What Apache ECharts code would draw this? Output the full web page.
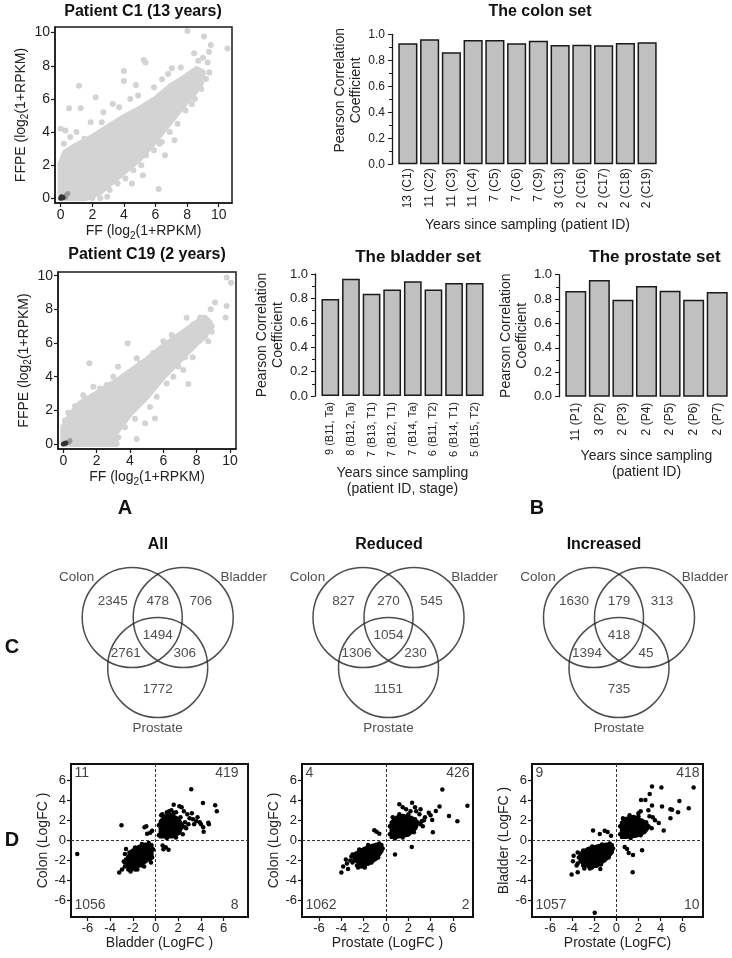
<!DOCTYPE html>
<html><head><meta charset="utf-8">
<script src="https://cdn.jsdelivr.net/npm/echarts@6/dist/echarts.min.js"></script>
<style>html,body{margin:0;padding:0;background:#fff}#c{width:732px;height:958px}</style>
</head><body><div id="c"></div>
<script>
// ---------------- DATA ----------------
const scatterTicks = [0, 2, 4, 6, 8, 10];
const fcTicks = [-6, -4, -2, 0, 2, 4, 6];

// Panel A: dense cloud outlines and individual (fringe/outlier) points
const c1CloudOutline = [[0,0],[0,2.1],[0.3,2.8],[1,3.2],[2,3.7],[3,4.3],[4,4.9],[5,5.4],[6,6.0],[7,6.8],[8,7.4],[8.6,7.8],[9.0,7.6],[8.9,7.0],[8.4,6.3],[8,5.9],[7,4.7],[6,3.5],[5,2.4],[4,1.6],[3,0.8],[2.5,0.4],[2,0.15],[1.5,0],[0,0]];
const c1Points = [[8.02,10.1],[9.07,9.76],[9.5,9.26],[10.55,9.05],[9.39,8.85],[8.44,8.75],[9.0,8.49],[8.7,8.3],[9.3,8.2],[5.26,8.35],[5.37,8.2],[4.0,7.69],[4.0,7.08],[7.03,7.85],[6.42,7.18],[4.76,6.84],[1.16,6.8],[2.21,6.1],[0.53,5.43],[1.26,5.43],[0,4.2],[0.3,4.1],[6.2,0.56],[2.95,0.1],[8.06,6.64],[8.5,6.0],[9.4,7.6],[7.6,7.9],[6.8,7.5],[3.3,5.7],[2.7,5.2],[3.7,5.5],[4.4,6.0],[5.9,6.7],[1.9,4.6],[1.0,4.0],[0.6,3.7],[2.6,4.6],[4.9,6.2],[1.2,0.0],[2.0,0.0],[2.5,0.0],[3.1,0.5],[3.6,0.9],[4.1,1.2],[4.6,1.7],[5.1,2.0],[5.4,2.6],[5.9,2.9],[6.4,3.4],[6.9,4.0],[7.4,4.5],[7.9,5.3],[8.3,5.7],[8.9,6.6],[4.5,0.9],[5.2,1.4],[6.6,2.6],[7.2,3.5],[6.27,3.3],[0.2,3.3],[1.5,3.6],[9.2,7.2]];
const c1Dark = [[0,0],[0.08,0.02],[0.15,0.05],[0.05,0.1]];
const c1Mid = [[0.25,0.1],[0.35,0.2],[0.45,0.3],[0.3,0.05]];

const c19CloudOutline = [[0,0],[0,1.0],[0.5,1.8],[1,2.4],[2,3.0],[3,3.6],[4,4.3],[5,5.0],[6,5.8],[7,6.5],[8,7.2],[8.5,7.5],[8.8,7.2],[8.5,6.4],[8,6.0],[7,5.0],[6,4.0],[5,2.8],[4,1.8],[3.4,1.0],[3.0,0.5],[3.2,0],[0,0]];
const c19Points = [[9.8,9.9],[10.06,9.58],[9.8,8.2],[9.1,8.4],[8.84,8.0],[9.74,7.52],[8.9,6.67],[8.2,7.5],[8.4,7.5],[8.6,7.3],[7.4,7.5],[3.86,5.98],[1.56,4.79],[3.28,4.59],[4.4,5.09],[6.5,6.47],[7.3,5.15],[7.76,5.15],[7.5,3.56],[5.5,1.52],[4.9,1.23],[4.4,0.3],[1.8,3.4],[0.7,2.26],[0.3,1.86],[2.6,3.5],[2.2,3.3],[1.2,2.9],[0.1,1.4],[3.0,4.0],[4.6,4.8],[5.4,5.4],[6.0,6.1],[7.8,7.1],[8.9,7.0],[8.1,6.4],[6.9,4.6],[6.2,3.6],[5.6,2.8],[4.3,1.5],[3.7,1.0],[3.3,0.4],[2.7,0.1],[5.2,2.2],[6.6,4.0],[7.2,4.4],[8.7,6.1],[2.3,0]];
const c19Dark = [[0,0],[0.08,0.02],[0.15,0.05]];
const c19Mid = [[0.25,0.08],[0.35,0.12],[0.4,0.2]];

// Panel B: Pearson correlation bars
const colonCats = ['13 (C1)','11 (C2)','11 (C3)','11 (C4)','7 (C5)','7 (C6)','7 (C9)','3 (C13)','2 (C16)','2 (C17)','2 (C18)','2 (C19)'];
const colonVals = [0.931,0.962,0.862,0.956,0.956,0.931,0.951,0.918,0.920,0.915,0.933,0.938];
const bladderCats = ['9 (B11, Ta)','8 (B12, Ta)','7 (B13, T1)','7 (B12, T1)','7 (B14, Ta)','6 (B11, T2)','6 (B14, T1)','5 (B15, T2)'];
const bladderVals = [0.795,0.962,0.839,0.872,0.940,0.872,0.926,0.926];
const prostateCats = ['11 (P1)','3 (P2)','2 (P3)','2 (P4)','2 (P5)','2 (P6)','2 (P7)'];
const prostateVals = [0.866,0.956,0.795,0.907,0.869,0.795,0.858];

// Panel C: Venn counts (colon only, colon∩bladder, bladder only, all three, colon∩prostate, bladder∩prostate, prostate only)
const vennSets = ['Colon', 'Bladder', 'Prostate'];
const vennTitles = ['All', 'Reduced', 'Increased'];
const vennAll = [2345, 478, 706, 1494, 2761, 306, 1772];
const vennReduced = [827, 270, 545, 1054, 1306, 230, 1151];
const vennIncreased = [1630, 179, 313, 418, 1394, 45, 735];

// Panel D: LogFC scatter (quadrant counts: top-left, top-right, bottom-left, bottom-right)
const abCounts = [11, 419, 1056, 8];
const pcCounts = [4, 426, 1062, 2];
const pbCounts = [9, 418, 1057, 10];
const abNegOutline = [[-0.3,-0.4],[-0.3,-1.5],[-0.8,-2.1],[-1.5,-2.6],[-2.1,-2.9],[-2.5,-2.6],[-2.5,-1.7],[-2.1,-1.0],[-1.5,-0.6],[-0.9,-0.35]];
const abPosOutline = [[0.4,0.35],[0.4,1.9],[0.8,2.4],[1.3,2.6],[2.0,2.2],[2.4,1.5],[2.1,0.7],[1.5,0.35]];
const abPoints = [[-3.2,-3.2],[-2.95,-2.9],[-2.7,-1.35],[-2.6,-0.85],[-2.8,-2.1],[-2.7,-2.6],[-2.2,-3.1],[-1.8,-2.9],[-1.2,-2.5],[-0.5,-1.9],[-0.3,-1.7],[-6.9,-1.35],[-3.0,1.5],[-0.82,1.4],[-0.97,1.3],[-0.74,0.67],[-0.47,0.75],[-0.3,0.95],[3.15,5.1],[4.18,3.73],[5.26,3.5],[5.4,2.9],[4.7,1.6],[4.65,1.75],[4.24,0.85],[4.2,1.3],[3.9,1.8],[3.6,1.9],[1.6,3.55],[2.1,3.4],[2.3,3.3],[3.2,2.7],[2.8,2.6],[3.0,2.2],[2.6,1.8],[3.4,1.6],[2.5,2.9],[0.62,-0.5],[0.9,-0.67],[1.15,-0.93],[0.7,-0.87],[1.8,2.8],[3.7,2.3],[4.0,1.6],[1.2,2.9],[0.6,2.6],[2.7,1.2],
  [-2.7,-2.2],[-2.6,-1.9],[-2.3,-1.2],[-1.8,-0.7],[-1.2,-0.35],[-0.6,-0.25],[-0.2,-0.9],[-0.4,-2.2],[-1.0,-2.6],[-1.6,-2.9],[-2.4,-2.9],[0.3,0.5],[0.3,1.5],[0.5,2.5],[1.0,2.8],[1.6,2.7],[2.2,2.3],[2.6,1.3],[2.4,0.6],[1.8,0.3],[1.0,0.25],[2.9,1.6],[3.3,2.1],[1.4,3.0]];
const pcNegOutline = [[-0.35,-0.4],[-0.35,-1.1],[-0.9,-1.9],[-1.6,-2.4],[-2.3,-2.4],[-2.9,-1.9],[-2.8,-1.3],[-2.0,-0.8],[-1.3,-0.5],[-0.8,-0.35]];
const pcPosOutline = [[0.45,0.3],[0.45,1.8],[0.9,2.3],[1.5,2.5],[2.3,2.3],[2.9,1.8],[2.7,1.2],[2.0,0.5],[1.0,0.3]];
const pcPoints = [[-4.0,-3.2],[-3.84,-2.6],[-3.6,-1.9],[-3.4,-2.85],[-3.5,-2.3],[-3.1,-1.6],[-2.5,-2.7],[-1.9,-2.7],[-1.05,1.0],[-0.6,0.66],[-0.85,0.85],[0.81,-1.41],[2.31,-0.66],[-3.2,-2.0],[-2.2,-2.6],[5.05,5.07],[7.3,3.45],[6.4,1.9],[5.65,2.43],[4.8,3.36],[4.47,2.93],[4.14,2.04],[4.2,0.82],[3.84,2.76],[3.1,3.1],[2.34,3.75],[1.2,3.59],[1.5,3.3],[3.5,2.3],[3.2,1.9],[2.7,2.9],[4.0,2.5],[3.0,2.6],[1.8,3.1],[2.6,3.3],[3.3,1.4],
  [-3.0,-2.2],[-2.6,-2.5],[-1.9,-2.5],[-1.3,-2.2],[-0.7,-1.7],[-0.3,-0.8],[-0.6,-0.3],[-1.6,-0.45],[-2.4,-0.9],[-3.0,-1.4],[0.35,0.6],[0.35,1.4],[0.6,2.3],[1.2,2.6],[2.0,2.6],[2.6,2.1],[3.1,1.6],[2.5,0.8],[1.5,0.3],[0.8,0.2],[3.4,2.0],[2.2,2.9]];
const pbNegOutline = [[-0.35,-0.4],[-0.35,-1.2],[-1.0,-2.0],[-1.8,-2.6],[-2.6,-2.6],[-3.3,-2.1],[-3.3,-1.3],[-2.6,-0.8],[-1.6,-0.5],[-0.9,-0.35]];
const pbPosOutline = [[0.45,0.3],[0.45,1.8],[0.9,2.2],[1.6,2.4],[2.4,2.0],[3.0,1.4],[2.6,0.8],[1.8,0.4],[1.0,0.3]];
const pbPoints = [[-4.05,-3.4],[-3.5,-3.17],[-3.93,-2.08],[-3.87,-1.52],[-2.11,0.99],[-1.5,0.63],[-1.06,0.96],[-0.79,0.83],[-0.48,0.46],[-1.96,-7.2],[-1.45,-2.84],[-2.4,-2.8],[-3.6,-2.5],[-3.5,-1.2],[-2.9,-2.8],[3.23,5.35],[4.08,5.25],[3.02,4.62],[3.23,3.47],[2.63,4.03],[2.24,4.03],[7.0,5.25],[5.71,3.93],[4.9,3.1],[5.05,3.04],[4.9,2.21],[5.59,2.8],[6.56,3.2],[4.14,3.37],[4.29,0.99],[3.84,1.72],[0.76,-0.66],[0.97,-0.86],[1.51,-1.45],[2.33,-0.99],[1.48,-3.17],[1.12,-1.25],[3.0,2.4],[3.5,2.0],[2.0,2.7],[2.9,3.0],
  [-3.5,-2.3],[-3.0,-2.5],[-2.2,-2.7],[-1.4,-2.4],[-0.7,-1.7],[-0.3,-0.8],[-0.6,-0.3],[-1.3,-0.4],[-2.2,-0.6],[-3.0,-1.0],[-3.4,-1.7],[0.35,0.6],[0.35,1.4],[0.6,2.2],[1.2,2.5],[2.0,2.4],[2.7,1.8],[3.2,1.2],[2.2,0.5],[1.3,0.25],[3.3,2.3],[2.2,2.9]];

// ---------------- LAYOUT / STYLE ----------------
const FONT = "'Liberation Sans', Arial, Helvetica, sans-serif";
const INK = '#1a1a1a';

const chart = echarts.init(document.getElementById('c'), null, {renderer: 'canvas'});

const grids = [
  {left: 55, top: 27, width: 177, height: 176, show: true, borderColor: INK, borderWidth: 1.5},      // 0 C1
  {left: 58, top: 272, width: 178, height: 177, show: true, borderColor: INK, borderWidth: 1.5},     // 1 C19
  {left: 397, top: 34.3, width: 261, height: 130},                                                   // 2 colon
  {left: 320, top: 274, width: 165, height: 122},                                                    // 3 bladder
  {left: 564, top: 274.7, width: 165, height: 122},                                                  // 4 prostate
  {left: 0, top: 0, width: 732, height: 958},                                                        // 5 venn canvas
  {left: 71, top: 764, width: 177, height: 153, show: true, borderColor: '#111', borderWidth: 2},    // 6
  {left: 302, top: 764, width: 171, height: 153, show: true, borderColor: '#111', borderWidth: 2},   // 7
  {left: 532, top: 764, width: 171, height: 153, show: true, borderColor: '#111', borderWidth: 2}    // 8
];

const subRich = {s: {fontSize: 10, padding: [9, 0, 0, 0], fontFamily: FONT, color: '#222'}};

function scatterAxes(gi, xr, yr, xGap, yGap) {
  const common = {
    gridIndex: gi, type: 'value', splitLine: {show: false},
    axisLine: {show: true, onZero: false, lineStyle: {color: INK, width: 1.5}},
    axisTick: {show: true, customValues: scatterTicks, length: 4, lineStyle: {color: INK, width: 1.2}},
    axisLabel: {customValues: scatterTicks, fontSize: 14, color: '#222', margin: 5, fontFamily: FONT},
    nameLocation: 'middle', nameTextStyle: {fontSize: 14, color: '#222', fontFamily: FONT, rich: subRich}
  };
  return {
    x: Object.assign({}, common, {min: xr[0], max: xr[1], name: 'FF (log{s|2}(1+RPKM)', nameGap: xGap}),
    y: Object.assign({}, common, {min: yr[0], max: yr[1], name: 'FFPE (log{s|2}(1+RPKM)', nameGap: yGap})
  };
}
function fcAxes(gi, xr, yr, xname, yname) {
  const common = {
    gridIndex: gi, type: 'value', splitLine: {show: false},
    axisLine: {show: true, onZero: false, lineStyle: {color: '#111', width: 2}},
    axisTick: {show: true, customValues: fcTicks, length: 4, lineStyle: {color: '#111', width: 1.2}},
    axisLabel: {customValues: fcTicks, fontSize: 13, color: '#222', margin: 5, fontFamily: FONT},
    nameLocation: 'middle', nameTextStyle: {fontSize: 14, color: '#222', fontFamily: FONT}
  };
  return {
    x: Object.assign({}, common, {min: xr[0], max: xr[1], name: xname, nameGap: 18}),
    y: Object.assign({}, common, {min: yr[0], max: yr[1], name: yname, nameGap: 19})
  };
}
function barAxes(gi, cats, labelSize, labelMargin, xname, xGap, yPad, tickSize) {
  return {
    x: {gridIndex: gi, type: 'category', data: cats, axisLine: {show: false}, axisTick: {show: false},
        axisLabel: {rotate: 90, interval: 0, fontSize: labelSize, margin: labelMargin, color: '#222', fontFamily: FONT},
        name: xname, nameLocation: 'middle', nameGap: xGap,
        nameTextStyle: {fontSize: 14, lineHeight: 16, color: '#222', fontFamily: FONT}},
    y: {gridIndex: gi, type: 'value', min: 0, max: 1, interval: 0.2, offset: 5,
        axisLine: {show: true, lineStyle: {color: INK, width: 1.3}},
        axisTick: {show: true, length: 4, lineStyle: {color: INK}},
        minorTick: {show: true, splitNumber: 2, length: 3, lineStyle: {color: INK}},
        splitLine: {show: false}, minorSplitLine: {show: false},
        axisLabel: {formatter: v => v.toFixed(1), fontSize: tickSize, margin: 7, color: '#222', fontFamily: FONT},
        name: 'Pearson Correlation\nCoefficient', nameLocation: 'middle', nameGap: 28,
        nameTextStyle: {fontSize: 14, lineHeight: 16, color: '#222', fontFamily: FONT, padding: yPad}}
  };
}

const a0 = scatterAxes(0, [-0.36, 10.84], [-0.28, 10.34], 19, 22);
const a1 = scatterAxes(1, [-0.32, 10.36], [-0.3, 10.22], 19, 24);
const b2 = barAxes(2, colonCats, 12, 4, 'Years since sampling (patient ID)', 53, [0, 0, 0, 18], 12);
const b3 = barAxes(3, bladderCats, 11, 6, 'Years since sampling\n(patient ID, stage)', 69, [0, 0, 0, 0], 13);
const b4 = barAxes(4, prostateCats, 12, 6, 'Years since sampling\n(patient ID)', 51, [0, 0, 0, 0], 13);
const f6 = fcAxes(6, [-7.45, 8.15], [-7.62, 7.6], 'Bladder (LogFC )', 'Colon (LogFC )');
const f7 = fcAxes(7, [-7.53, 7.8], [-7.62, 7.6], 'Prostate (LogFC )', 'Colon (LogFC )');
const f8 = fcAxes(8, [-7.64, 7.85], [-7.62, 7.6], 'Prostate (LogFC)', 'Bladder (LogFC )');
const canvasX = {gridIndex: 5, type: 'value', min: 0, max: 732, show: false};
const canvasY = {gridIndex: 5, type: 'value', min: 0, max: 958, inverse: true, show: false};

const xAxes = [a0.x, a1.x, b2.x, b3.x, b4.x, canvasX, f6.x, f7.x, f8.x];
const yAxes = [a0.y, a1.y, b2.y, b3.y, b4.y, canvasY, f6.y, f7.y, f8.y];

function cloud(idx, outline, color, strokeW) {
  return {
    type: 'custom', xAxisIndex: idx, yAxisIndex: idx, silent: true, data: outline, encode: {x: 0, y: 1}, z: 2,
    renderItem(params, api) {
      if (params.dataIndex !== 0) return null;
      return {type: 'polygon', shape: {points: outline.map(p => api.coord(p))},
              style: {fill: color, stroke: color, lineWidth: strokeW, lineJoin: 'round'}};
    }
  };
}
function pts(idx, data, color, size) {
  return {type: 'scatter', xAxisIndex: idx, yAxisIndex: idx, data: data, symbolSize: size, silent: true, z: 3,
          itemStyle: {color: color, opacity: 1}};
}
function zeroLines(idx) {
  return {type: 'scatter', xAxisIndex: idx, yAxisIndex: idx, data: [], silent: true,
    markLine: {silent: true, symbol: 'none', animation: false, label: {show: false},
      lineStyle: {type: [3, 2], color: '#333', width: 1}, data: [{xAxis: 0}, {yAxis: 0}]}};
}
function corners(idx, counts, xr, yr, rightInset) {
  const anchors = [[xr[0], yr[1]], [xr[1], yr[1]], [xr[0], yr[0]], [xr[1], yr[0]]];
  const offs = [[4, 3, 'left', 'top'], [-rightInset, 3, 'right', 'top'], [4, -4, 'left', 'bottom'], [-rightInset, -4, 'right', 'bottom']];
  return {type: 'scatter', xAxisIndex: idx, yAxisIndex: idx, silent: true, symbolSize: 1, z: 5,
    itemStyle: {color: 'rgba(0,0,0,0)'},
    data: counts.map((c, i) => ({value: anchors[i], name: String(c),
      label: {show: true, position: [offs[i][0], offs[i][1]], align: offs[i][2], verticalAlign: offs[i][3],
              formatter: '{b}', fontSize: 14, color: '#111', fontFamily: FONT}}))};
}
function bars(idx, vals, gap) {
  return {type: 'bar', xAxisIndex: idx, yAxisIndex: idx, data: vals, barCategoryGap: gap, silent: true,
          itemStyle: {color: '#c0c0c0', borderColor: INK, borderWidth: 1.5}};
}

// Venn geometry (layout only)
const vennCx = [157.7, 388.5, 619];
const vennBaseY = 667.5;
const circleOffsets = [[-25.5, -50], [25.5, -50], [0, 0]];
const regionPos = [[-45, 601], [0, 601], [43, 601], [0, 635], [-32, 653], [27, 653], [0, 689]];
const setPos = [[-81, 577], [86, 577], [0, 728]];

const vennCircles = [];
vennCx.forEach(cx => circleOffsets.forEach(o => vennCircles.push([cx + o[0], vennBaseY + o[1]])));
const vennTexts = [];
[vennAll, vennReduced, vennIncreased].forEach((counts, i) => {
  counts.forEach((c, j) => vennTexts.push({value: [vennCx[i] + regionPos[j][0], regionPos[j][1]], name: String(c)}));
  vennSets.forEach((s, j) => vennTexts.push({value: [vennCx[i] + setPos[j][0], setPos[j][1]], name: s}));
});

const series = [
  cloud(0, c1CloudOutline, '#d3d3d3', 6), pts(0, c1Points, '#d3d3d3', 6), pts(0, c1Mid, '#9a9a9a', 5), pts(0, c1Dark, '#333', 5),
  cloud(1, c19CloudOutline, '#d3d3d3', 6), pts(1, c19Points, '#d3d3d3', 6), pts(1, c19Mid, '#9a9a9a', 5), pts(1, c19Dark, '#333', 5),
  bars(2, colonVals, '12%'), bars(3, bladderVals, '14%'), bars(4, prostateVals, '11%'),
  {type: 'scatter', xAxisIndex: 5, yAxisIndex: 5, data: vennCircles, symbol: 'circle', symbolSize: 100, silent: true,
   itemStyle: {color: 'rgba(0,0,0,0)', borderColor: '#222', borderWidth: 1.5}},
  {type: 'scatter', xAxisIndex: 5, yAxisIndex: 5, data: vennTexts, symbolSize: 1, silent: true,
   itemStyle: {color: 'rgba(0,0,0,0)'},
   label: {show: true, position: 'inside', formatter: '{b}', fontSize: 13.5, color: '#222', fontFamily: FONT}},
  cloud(6, abNegOutline, '#000', 3), cloud(6, abPosOutline, '#000', 3), pts(6, abPoints, '#000', 4.5), zeroLines(6), corners(6, abCounts, [-7.45, 8.15], [-7.62, 7.6], 9),
  cloud(7, pcNegOutline, '#000', 3), cloud(7, pcPosOutline, '#000', 3), pts(7, pcPoints, '#000', 4.5), zeroLines(7), corners(7, pcCounts, [-7.53, 7.8], [-7.62, 7.6], 3),
  cloud(8, pbNegOutline, '#000', 3), cloud(8, pbPosOutline, '#000', 3), pts(8, pbPoints, '#000', 4.5), zeroLines(8), corners(8, pbCounts, [-7.64, 7.85], [-7.62, 7.6], 3)
];

const titles = [
  ['Patient C1 (13 years)', 143, 12, 16], ['Patient C19 (2 years)', 147, 255, 16],
  ['The colon set', 540, 12, 16], ['The bladder set', 418, 257, 17], ['The prostate set', 655, 257, 17],
  ['A', 125, 508, 20], ['B', 537, 508, 20], ['C', 12, 647, 20], ['D', 12, 840, 20]
];
vennTitles.forEach((t, i) => titles.push([t, [158, 389, 604][i], 545, 16]));

chart.setOption({
  animation: false,
  backgroundColor: '#fff',
  textStyle: {fontFamily: FONT},
  grid: grids,
  xAxis: xAxes,
  yAxis: yAxes,
  series: series,
  graphic: titles.map(t => ({type: 'text', x: t[1], y: t[2], silent: true,
    style: {text: t[0], fill: '#111', align: 'center', verticalAlign: 'middle',
            font: 'bold ' + t[3] + 'px ' + FONT}}))
});
</script></body></html>
